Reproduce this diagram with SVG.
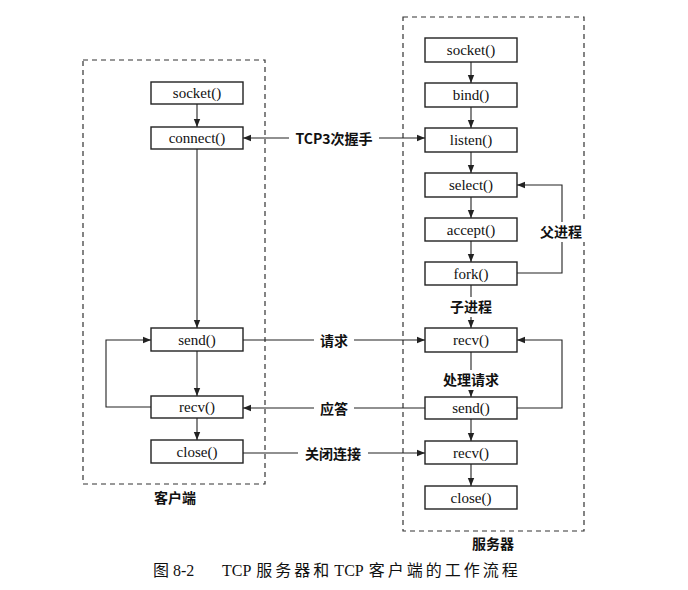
<svg xmlns="http://www.w3.org/2000/svg" width="688" height="590" viewBox="0 0 688 590">
<style>
.frame{fill:none;stroke:#333;stroke-width:1.2;stroke-dasharray:5,4}
.box rect{fill:#fff;stroke:#222;stroke-width:1.4}
.box text{font-family:"Liberation Serif",serif;font-size:15px;fill:#111;text-anchor:middle}
.ln{fill:none;stroke:#222;stroke-width:1.1}
.lbl{font-family:"Noto Sans CJK SC","Liberation Sans",sans-serif;font-size:14px;font-weight:bold;fill:#111;text-anchor:middle}
.lblbg{fill:#fff}
.cap{font-family:"Liberation Serif","Noto Sans CJK SC",serif;font-size:16px;fill:#111}
.cj{letter-spacing:3px}
</style>
<defs>
<marker id="ah" viewBox="0 0 10 10" refX="10" refY="5" markerWidth="8" markerHeight="8" markerUnits="userSpaceOnUse" orient="auto-start-reverse">
<path d="M0,1 L10,5 L0,9 z" fill="#222"/>
</marker>
</defs>
<rect width="688" height="590" fill="#fff"/>
<g id="client-frame"><rect class="frame" x="83" y="60" width="182" height="424"/><text class="lbl" x="175" y="503" font-size="15">客户端</text></g>
<g id="server-frame"><rect class="frame" x="403" y="17" width="181" height="514"/><text class="lbl" x="493" y="549" font-size="15">服务器</text></g>
<g id="connectors">
<path class="ln" d="M197,104 V127" marker-end="url(#ah)"/>
<path class="ln" d="M197,149 V328" marker-end="url(#ah)"/>
<path class="ln" d="M197,351 V396" marker-end="url(#ah)"/>
<path class="ln" d="M197,418 V440" marker-end="url(#ah)"/>
<path class="ln" d="M151,407 H106 V340 H151" marker-end="url(#ah)"/>
<path class="ln" d="M471,62 V83" marker-end="url(#ah)"/>
<path class="ln" d="M471,107 V128" marker-end="url(#ah)"/>
<path class="ln" d="M471,152 V173" marker-end="url(#ah)"/>
<path class="ln" d="M471,197 V218" marker-end="url(#ah)"/>
<path class="ln" d="M471,241 V262" marker-end="url(#ah)"/>
<path class="ln" d="M471,285 V328" marker-end="url(#ah)"/>
<path class="ln" d="M471,352 V397" marker-end="url(#ah)"/>
<path class="ln" d="M471,419 V441" marker-end="url(#ah)"/>
<path class="ln" d="M471,464 V486" marker-end="url(#ah)"/>
<path class="ln" d="M517,273 H562 V185 H517" marker-end="url(#ah)"/>
<path class="ln" d="M517,408 H562 V340 H517" marker-end="url(#ah)"/>
<path class="ln" d="M243,138 H425" marker-start="url(#ah)" marker-end="url(#ah)"/>
<path class="ln" d="M243,340 H425" marker-end="url(#ah)"/>
<path class="ln" d="M425,408 H243" marker-end="url(#ah)"/>
<path class="ln" d="M243,453 H425" marker-end="url(#ah)"/>
<rect class="lblbg" x="289" y="129" width="90" height="18"/>
<text class="lbl" x="334" y="143.5">TCP3次握手</text>
<rect class="lblbg" x="314" y="331" width="40" height="18"/>
<text class="lbl" x="334" y="345.5">请求</text>
<rect class="lblbg" x="314" y="399" width="40" height="18"/>
<text class="lbl" x="334" y="413.5">应答</text>
<rect class="lblbg" x="298" y="444" width="70" height="18"/>
<text class="lbl" x="333" y="458.5">关闭连接</text>
<rect class="lblbg" x="537" y="222" width="48" height="20"/>
<text class="lbl" x="561" y="237">父进程</text>
<rect class="lblbg" x="445" y="297" width="52" height="20"/>
<text class="lbl" x="471" y="312">子进程</text>
<rect class="lblbg" x="435" y="370" width="72" height="20"/>
<text class="lbl" x="471" y="385">处理请求</text>
</g>
<g id="c-socket" class="box"><rect x="151" y="82" width="92" height="22"/><text x="197" y="98">socket()</text></g>
<g id="c-connect" class="box"><rect x="151" y="127" width="92" height="22"/><text x="197" y="143">connect()</text></g>
<g id="c-send" class="box"><rect x="151" y="328" width="92" height="23"/><text x="197" y="344.5">send()</text></g>
<g id="c-recv" class="box"><rect x="151" y="396" width="92" height="22"/><text x="197" y="412">recv()</text></g>
<g id="c-close" class="box"><rect x="151" y="440" width="92" height="23"/><text x="197" y="456.5">close()</text></g>
<g id="s-socket" class="box"><rect x="425" y="38" width="92" height="24"/><text x="471" y="55">socket()</text></g>
<g id="s-bind" class="box"><rect x="425" y="83" width="92" height="24"/><text x="471" y="100">bind()</text></g>
<g id="s-listen" class="box"><rect x="425" y="128" width="92" height="24"/><text x="471" y="145">listen()</text></g>
<g id="s-select" class="box"><rect x="425" y="173" width="92" height="24"/><text x="471" y="190">select()</text></g>
<g id="s-accept" class="box"><rect x="425" y="218" width="92" height="23"/><text x="471" y="234.5">accept()</text></g>
<g id="s-fork" class="box"><rect x="425" y="262" width="92" height="23"/><text x="471" y="278.5">fork()</text></g>
<g id="s-recv" class="box"><rect x="425" y="328" width="92" height="24"/><text x="471" y="345">recv()</text></g>
<g id="s-send" class="box"><rect x="425" y="397" width="92" height="22"/><text x="471" y="413">send()</text></g>
<g id="s-recv2" class="box"><rect x="425" y="441" width="92" height="23"/><text x="471" y="457.5">recv()</text></g>
<g id="s-close" class="box"><rect x="425" y="486" width="92" height="23"/><text x="471" y="502.5">close()</text></g>
<text class="cap" x="153" y="576">图 8-2<tspan x="222">TCP</tspan><tspan class="cj" dx="5">服务器和</tspan><tspan dx="2">TCP</tspan><tspan class="cj" dx="5">客户端的工作流程</tspan></text>
</svg>
